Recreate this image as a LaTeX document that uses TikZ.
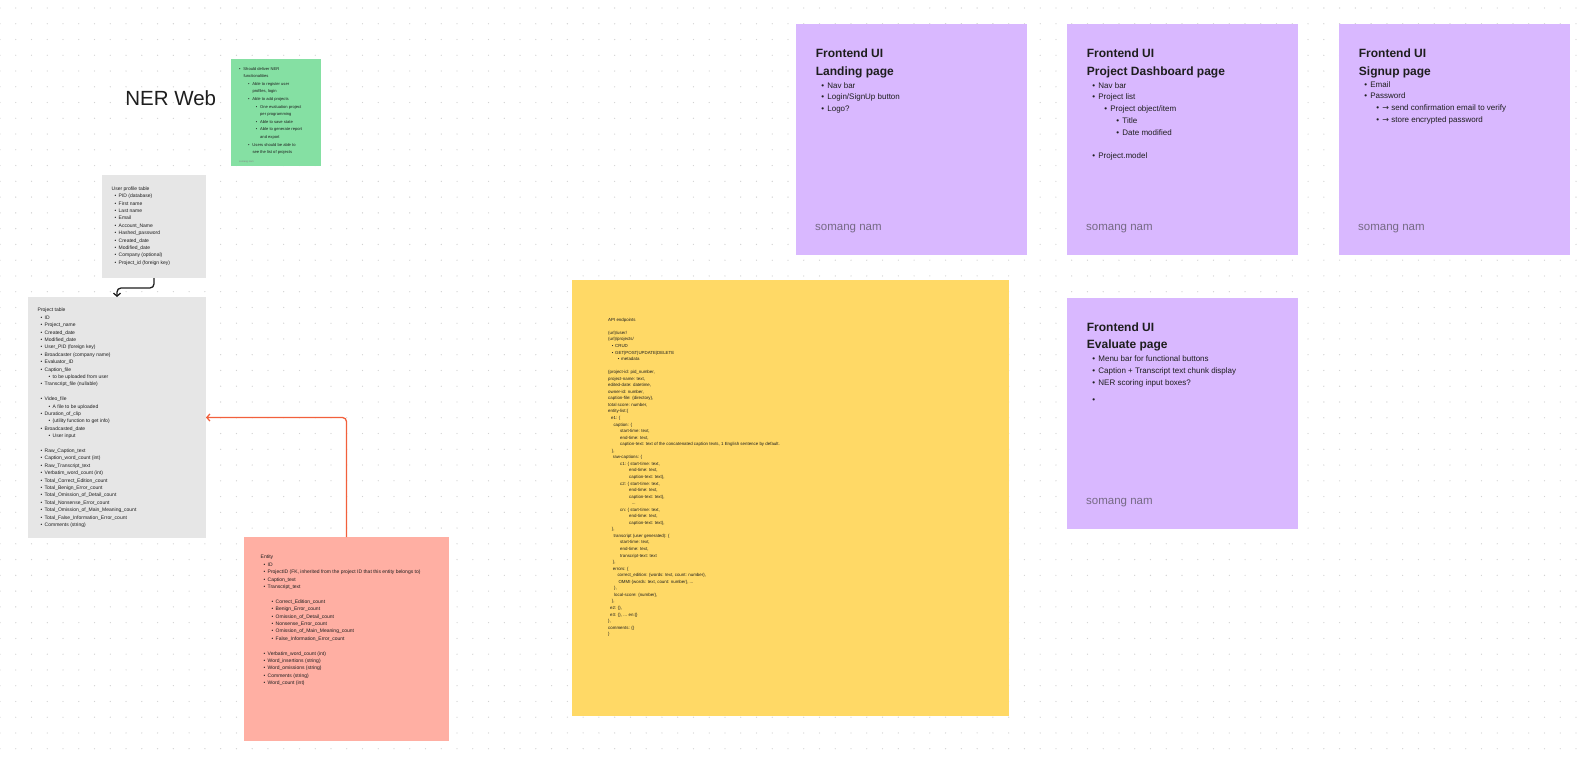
\documentclass[tikz,border=0pt]{standalone}
\usepackage{fontspec}
\setmainfont{Liberation Sans}
\newfontfamily\arrowfont{DejaVu Sans}
\usepackage{xcolor}
\usetikzlibrary{arrows.meta,positioning}
\definecolor{ink}{HTML}{1E1E1E}
\definecolor{dotgray}{HTML}{D2D2D2}
\definecolor{stickgreen}{HTML}{85E0A3}
\definecolor{stickgray}{HTML}{E6E6E6}
\definecolor{stickred}{HTML}{FFAFA3}
\definecolor{stickyellow}{HTML}{FFD966}
\definecolor{stickviolet}{HTML}{D9B8FF}
\definecolor{authgray}{HTML}{766A85}
\definecolor{linkred}{HTML}{F2603C}
\newcommand\bul[3][4]{\hspace*{#2pt}\makebox[#1pt][l]{\textbullet}#3}

\begin{document}
\begin{tikzpicture}[x=1pt,y=-1pt,
    griddot/.style={draw=dotgray,line width=1.3pt,line cap=round,
                    dash pattern=on 0pt off 15.76pt},
    card/.style={anchor=north west,inner sep=0pt,outer sep=0pt},
    tbl/.style={card,fill=stickgray},
    view/.style={card,fill=stickviolet,minimum width=231,minimum height=231},
    txt/.style={anchor=north west,inner sep=0pt,align=left,text=ink,
                font=\fontsize{5}{7.4}\selectfont},
    ptitle/.style={txt,font=\fontsize{12}{17.4}\selectfont\bfseries},
    plist/.style={txt,font=\fontsize{8}{11.8}\selectfont},
    author/.style={anchor=west,inner sep=0pt,text=authgray,
                   font=\fontsize{11.5}{13}\selectfont},
    link/.style={-{Straight Barb[length=3pt,width=7pt]},line width=1.3pt,
                 rounded corners=4pt}
  ]
    \useasboundingbox (0,0) rectangle (1588,762);
    \fill[white] (0,0) rectangle (1588,762);
    \foreach \r in {0,...,47}
      \draw[griddot] (0,8+15.76*\r) -- (1592,8+15.76*\r);

    \node[anchor=center,inner sep=0pt,text=ink,font=\fontsize{20.5}{24}\selectfont]
      (title) at (170.7,98) {NER Web};

    \node[card,fill=stickgreen,minimum width=90,minimum height=107] (ner) at (231,59) {};
    \node[txt,font=\fontsize{4.1}{7.6}\selectfont] (nertxt)
      at ([shift={(8,8)}]ner.north west) {%
      \bul[4.3]{0}{Should deliver NER}\\
      \hspace*{4.3pt}functionalities\\
      \bul[4.3]{9}{Able to register user}\\
      \hspace*{13.3pt}profiles, login\\
      \bul[4.3]{9}{Able to add projects}\\
      \bul[4.3]{16.7}{One evaluation project}\\
      \hspace*{21pt}per programming\\
      \bul[4.3]{16.7}{Able to save state}\\
      \bul[4.3]{16.7}{Able to generate report}\\
      \hspace*{21pt}and export\\
      \bul[4.3]{9}{Users should be able to}\\
      \hspace*{13.3pt}see the list of projects};
    \node[anchor=west,inner sep=0pt,text=ink!55,font=\fontsize{2.5}{3}\selectfont]
      (nerauth) at ([shift={(8,-4)}]ner.south west) {somang nam};

    \node[tbl,minimum width=104,minimum height=103] (usrtab) at (102,175) {};
    \node[txt] (usrtxt) at ([shift={(9.5,11.5)}]usrtab.north west) {%
      User profile table\\
      \bul{3}{PID (database)}\\
      \bul{3}{First name}\\
      \bul{3}{Last name}\\
      \bul{3}{Email}\\
      \bul{3}{Account\_Name}\\
      \bul{3}{Hashed\_password}\\
      \bul{3}{Created\_date}\\
      \bul{3}{Modified\_date}\\
      \bul{3}{Company (optional)}\\
      \bul{3}{Project\_id (foreign key)}};

    \node[tbl,minimum width=178,minimum height=241] (projtab) at (28,297) {};
    \node[txt] (projtxt) at ([shift={(9.5,11)}]projtab.north west) {%
      Project table\\
      \bul{3}{ID}\\
      \bul{3}{Project\_name}\\
      \bul{3}{Created\_date}\\
      \bul{3}{Modified\_date}\\
      \bul{3}{User\_PID (foreign key)}\\
      \bul{3}{Broadcaster (company name)}\\
      \bul{3}{Evaluator\_ID}\\
      \bul{3}{Caption\_file}\\
      \bul{11}{to be uploaded from user}\\
      \bul{3}{Transcript\_file (nullable)}\\
      \mbox{}\\
      \bul{3}{Video\_file}\\
      \bul{11}{A file to be uploaded}\\
      \bul{3}{Duration\_of\_clip}\\
      \bul{11}{(utility function to get info)}\\
      \bul{3}{Broadcasted\_date}\\
      \bul{11}{User input}\\
      \mbox{}\\
      \bul{3}{Raw\_Caption\_text}\\
      \bul{3}{Caption\_word\_count (int)}\\
      \bul{3}{Raw\_Transcript\_text}\\
      \bul{3}{Verbatim\_word\_count (int)}\\
      \bul{3}{Total\_Correct\_Edition\_count}\\
      \bul{3}{Total\_Benign\_Error\_count}\\
      \bul{3}{Total\_Omission\_of\_Detail\_count}\\
      \bul{3}{Total\_Nonsense\_Error\_count}\\
      \bul{3}{Total\_Omission\_of\_Main\_Meaning\_count}\\
      \bul{3}{Total\_False\_Information\_Error\_count}\\
      \bul{3}{Comments (string)}};

    \node[card,fill=stickred,minimum width=205,minimum height=204] (entity) at (244,537) {};
    \node[txt] (entitytxt) at ([shift={(16.5,18)}]entity.north west) {%
      Entity\\
      \bul{3}{ID}\\
      \bul{3}{ProjectID (FK, inherited from the project ID that this entity belongs to)}\\
      \bul{3}{Caption\_text}\\
      \bul{3}{Transcript\_text}\\
      \mbox{}\\
      \bul{11}{Correct\_Edition\_count}\\
      \bul{11}{Benign\_Error\_count}\\
      \bul{11}{Omission\_of\_Detail\_count}\\
      \bul{11}{Nonsense\_Error\_count}\\
      \bul{11}{Omission\_of\_Main\_Meaning\_count}\\
      \bul{11}{False\_Information\_Error\_count}\\
      \mbox{}\\
      \bul{3}{Verbatim\_word\_count (int)}\\
      \bul{3}{Word\_insertions (string)}\\
      \bul{3}{Word\_omissions (string)}\\
      \bul{3}{Comments (string)}\\
      \bul{3}{Word\_count (int)}};

    \node[card,fill=stickyellow,minimum width=436.5,minimum height=436.5] (api) at (572,279.5) {};
    \node[txt,font=\fontsize{4.4}{6.55}\selectfont] (apitxt)
      at ([shift={(36,38.4)}]api.north west) {%
      API endpoints\\
      \mbox{}\\
      (url)/user/\\
      (url)/projects/\\
      \bul[3.3]{3.7}{CRUD}\\
      \bul[3.3]{3.7}{GET|POST|UPDATE|DELETE}\\
      \bul[3.3]{9.7}{metadata}\\
      \mbox{}\\
      \{project-id: pid\_number,\\
      project-name: text,\\
      edited-date: datetime,\\
      owner-id: number,\\
      caption-file: \{directory\},\\
      total score: number,\\
      entity-list:\{\\
      \hspace*{3pt}e1: \{\\
      \hspace*{5.3pt}caption: \{\\
      \hspace*{12pt}start-time: text,\\
      \hspace*{12pt}end-time: text,\\
      \hspace*{12pt}caption-text: text of the concatenated caption texts, 1 English sentence by default.\\
      \hspace*{3.7pt}\},\\
      \hspace*{4.7pt}raw-captions: \{\\
      \hspace*{12pt}c1: \{ start-time: text,\\
      \hspace*{21pt}end-time: text,\\
      \hspace*{21pt}caption-text: text\},\\
      \hspace*{12pt}c2: \{ start-time: text,\\
      \hspace*{21pt}end-time: text,\\
      \hspace*{21pt}caption-text: text\},\\
      \hspace*{23.7pt}...\\
      \hspace*{12pt}cn: \{ start-time: text,\\
      \hspace*{21pt}end-time: text,\\
      \hspace*{21pt}caption-text: text\},\\
      \hspace*{3.7pt}\},\\
      \hspace*{5.3pt}transcript (user generated): \{\\
      \hspace*{12pt}start-time: text,\\
      \hspace*{12pt}end-time: text,\\
      \hspace*{12pt}transcript-text: text\\
      \hspace*{4.7pt}\},\\
      \hspace*{4.7pt}errors: \{\\
      \hspace*{9.3pt}correct\_edition: \{words: text, count: number\},\\
      \hspace*{10.3pt}OMMI \{words: text, count: number\}, ...\\
      \hspace*{6pt}\},\\
      \hspace*{6pt}local-score: \{number\},\\
      \hspace*{3.7pt}\},\\
      \hspace*{2pt}e2: \{\},\\
      \hspace*{2pt}e3: \{\}, ... en:\{\}\\
      \},\\
      comments: \{\}\\
      \}};

    \node[view] (landing) at (796,24) {};
    \node[ptitle] (landtitle) at ([shift={(19.7,25)}]landing.north west)
      {Frontend UI\\Landing page};
    \node[plist,below right=4pt and 0pt of landtitle.south west] (landlist) {%
      \bul[6]{5.5}{Nav bar}\\
      \bul[6]{5.5}{Login/SignUp button}\\
      \bul[6]{5.5}{Logo?}};
    \node[author] (landauth) at ([shift={(19,-26)}]landing.south west) {somang nam};

    \node[view] (dash) at (1067,24) {};
    \node[ptitle] (dashtitle) at ([shift={(19.7,25)}]dash.north west)
      {Frontend UI\\Project Dashboard page};
    \node[plist,below right=4pt and 0pt of dashtitle.south west] (dashlist) {%
      \bul[6]{5.5}{Nav bar}\\
      \bul[6]{5.5}{Project list}\\
      \bul[6]{17.5}{Project object/item}\\
      \bul[6]{29.5}{Title}\\
      \bul[6]{29.5}{Date modified}\\
      \mbox{}\\
      \bul[6]{5.5}{Project.model}};
    \node[author] (dashauth) at ([shift={(19,-26)}]dash.south west) {somang nam};

    \node[view] (signup) at (1339,24) {};
    \node[ptitle] (signtitle) at ([shift={(19.7,25)}]signup.north west)
      {Frontend UI\\Signup page};
    \node[plist,below right=3pt and 0pt of signtitle.south west] (signlist) {%
      \bul[6]{5.5}{Email}\\
      \bul[6]{5.5}{Password}\\
      \bul[6]{17.5}{{\arrowfont →} send confirmation email to verify}\\
      \bul[6]{17.5}{{\arrowfont →} store encrypted password}};
    \node[author] (signauth) at ([shift={(19,-26)}]signup.south west) {somang nam};

    \node[view] (evalpage) at (1067,297.5) {};
    \node[ptitle] (evaltitle) at ([shift={(19.7,25)}]evalpage.north west)
      {Frontend UI\\Evaluate page};
    \node[plist,below right=4pt and 0pt of evaltitle.south west] (evallist) {%
      \bul[6]{5.5}{Menu bar for functional buttons}\\
      \bul[6]{5.5}{Caption + Transcript text chunk display}\\
      \bul[6]{5.5}{NER scoring input boxes?}\\[6pt]
      \bul[6]{5.5}{}};
    \node[author] (evalauth) at ([shift={(19,-26)}]evalpage.south west) {somang nam};

    \draw[link,draw=ink] (usrtab.south) -- ++(0,10) -| ([xshift=89]projtab.north west);
    \draw[link,draw=linkred] (entity.north) |- (projtab.east);
\end{tikzpicture}
\end{document}
